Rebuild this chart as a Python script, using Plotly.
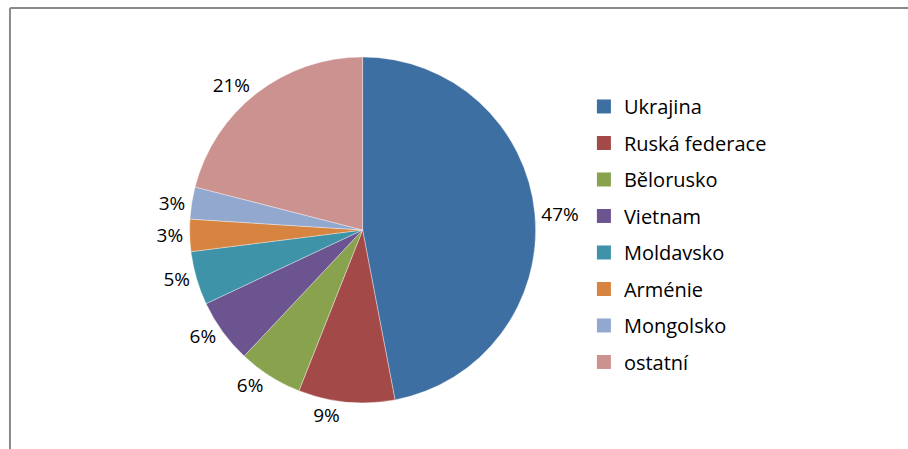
import plotly.graph_objects as go

categories = ["Ukrajina", "Ruská federace", "Bělorusko", "Vietnam", "Moldavsko", "Arménie", "Mongolsko", "ostatní"]
shares = [47, 9, 6, 6, 5, 3, 3, 21]
colors = ["#3D6FA2", "#A34A48", "#88A24E", "#6C5490", "#3F93A9", "#D6843F", "#93A8CF", "#CC9290"]

W, H = 908, 449
FONT = "Open Sans, Liberation Sans, sans-serif"

fig = go.Figure()
fig.add_trace(go.Pie(
    labels=categories, values=shares, sort=False, direction="clockwise", rotation=0,
    marker=dict(colors=colors, line=dict(color="rgba(255,255,255,0.6)", width=0.6)),
    texttemplate="%{value}%", textposition="outside",
    textfont=dict(size=19, color="#000000", family=FONT),
    showlegend=False, hoverinfo="label+percent",
    domain=dict(x=[0.1200, 0.6707], y=[0.1025, 0.8731]),
))
for i, (c, col) in enumerate(zip(categories, colors)):
    fig.add_trace(go.Scatter(
        x=[None], y=[None], mode="markers", name=c, legendgroup=f"g{i}",
        marker=dict(symbol="square", size=14, color=col),
        showlegend=True,
    ))

fx, fy = 4 / W, 1 - 8 / H
fig.update_layout(
    width=W, height=H, margin=dict(l=0, r=0, t=0, b=0),
    paper_bgcolor="white", plot_bgcolor="white",
    xaxis=dict(visible=False), yaxis=dict(visible=False),
    legend=dict(x=0.6407, y=0.8063, xanchor="left", yanchor="top",
                font=dict(size=20, color="#000000", family=FONT),
                tracegroupgap=7.5, itemwidth=30, bgcolor="rgba(0,0,0,0)"),
    shapes=[
        dict(type="line", xref="paper", yref="paper", x0=fx, x1=1, y0=fy, y1=fy,
             line=dict(color="#8A8A8A", width=2)),
        dict(type="line", xref="paper", yref="paper", x0=fx, x1=fx, y0=0, y1=fy,
             line=dict(color="#8A8A8A", width=2)),
    ],
)
fig.write_html(
    "out.html",
    config={"displayModeBar": False},
    post_script="document.body.style.margin='0';document.body.style.overflow='hidden';",
)
